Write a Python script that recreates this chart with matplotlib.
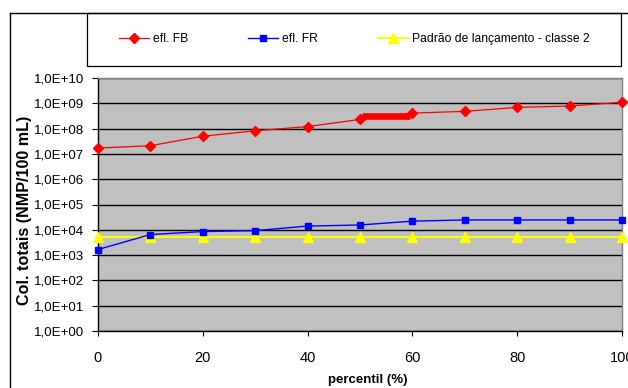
import matplotlib
matplotlib.use("Agg")
import matplotlib.pyplot as plt
from matplotlib.lines import Line2D
from matplotlib.patches import Rectangle

plt.rcParams['font.family'] = ['Liberation Sans', 'DejaVu Sans']

# Percentiles (%)
percentis = [0, 10, 20, 30, 40, 50, 60, 70, 80, 90, 100]

# Total coliforms (NMP/100 mL)
efl_fb = [1.7e7, 2.1e7, 5.0e7, 8.2e7, 1.2e8, 2.3e8, 4.1e8, 4.8e8, 6.9e8, 7.8e8, 1.1e9]
efl_fr = [1.66e3, 6.5e3, 8.5e3, 9.3e3, 1.4e4, 1.55e4, 2.2e4, 2.45e4, 2.45e4, 2.45e4, 2.45e4]
padrao_classe2 = [5.4e3] * len(percentis)

# Run of equal FB results between the 50th and 60th percentile
fb_patamar_x = [50.4, 59.6]
fb_patamar_y = [3.05e8, 3.05e8]

y_ticks = [10.0 ** k for k in range(0, 11)]
y_labels = ["1,0E+%02d" % k for k in range(0, 11)]
x_ticks = [0, 20, 40, 60, 80, 100]

W, H = 628, 388
fig = plt.figure(figsize=(W / 100, H / 100), dpi=100)
fig.patch.set_facecolor("white")

# outer chart border (continues past the right and bottom edges)
fig.add_artist(Line2D([10 / W, 10 / W], [1 - 13 / H, 0], transform=fig.transFigure,
                      color="black", lw=1.0))
fig.add_artist(Line2D([10 / W, 1], [1 - 13 / H, 1 - 13 / H], transform=fig.transFigure,
                      color="black", lw=1.0))

# legend box
fig.add_artist(Rectangle((87 / W, 1 - 66 / H), (621 - 87) / W, (66 - 13) / H,
                         transform=fig.transFigure, facecolor="white",
                         edgecolor="black", lw=0.9))

ax = fig.add_axes([98 / W, 1 - 331 / H, (622 - 98) / W, (331 - 78) / H])
ax.set_facecolor("#C0C0C0")

ax.plot(fb_patamar_x, fb_patamar_y, color="#FF0000", lw=4.8,
        solid_capstyle="butt", zorder=3)
l_fb, = ax.plot(percentis, efl_fb, color="#FF0000", lw=0.9, marker="D",
                ms=5, mec="#FF0000", mfc="#FF0000", zorder=4, clip_on=False)
l_pad, = ax.plot(percentis, padrao_classe2, color="#FFFF00", lw=1.4, marker="^",
                 ms=6.5, mec="#FFFF00", mfc="#FFFF00", zorder=3, clip_on=False)
l_fr, = ax.plot(percentis, efl_fr, color="#0000FF", lw=1.0, marker="s",
                ms=4, mec="#0000FF", mfc="#0000FF", zorder=4, clip_on=False)

ax.set_yscale("log")
ax.set_ylim(1, 1e10)
ax.set_xlim(0, 100)
ax.set_yticks(y_ticks)
ax.set_yticklabels(y_labels)
ax.minorticks_off()
ax.set_xticks(x_ticks)
ax.set_xticklabels([str(v) for v in x_ticks])

ax.yaxis.grid(True, color="black", lw=1.0)
ax.set_axisbelow(True)

for side in ("top", "right"):
    ax.spines[side].set_color("#808080")
    ax.spines[side].set_linewidth(1.0)
for side in ("left", "bottom"):
    ax.spines[side].set_color("black")
    ax.spines[side].set_linewidth(1.0)

ax.tick_params(axis="y", direction="out", length=4, width=0.8, pad=6,
               labelsize=9.6, colors="black")
ax.tick_params(axis="x", direction="out", length=3.5, width=0.8, pad=11,
               labelsize=10.5, colors="black")

ax.set_ylabel("Col. totais (NMP/100 mL)", fontsize=11.6, fontweight="bold")
ax.yaxis.set_label_coords((25 - 98) / (622 - 98), (331 - 210) / 253)
ax.yaxis.label.set_va("center")
ax.set_xlabel("percentil (%)", fontsize=9.5, fontweight="bold")
ax.xaxis.set_label_coords((368 - 98) / (622 - 98), -(380 - 331) / 253)
ax.xaxis.label.set_va("center")

fig.legend([l_fb, l_fr, l_pad],
           ["efl. FB", "efl. FR", "Padrão de lançamento - classe 2"],
           loc="center left", bbox_to_anchor=(119 / W, 1 - 39 / H),
           ncol=3, frameon=False, fontsize=8.7, handlelength=2.48,
           handletextpad=0.33, columnspacing=4.97, borderpad=0,
           borderaxespad=0)

fig.savefig("out.png", dpi=100)
